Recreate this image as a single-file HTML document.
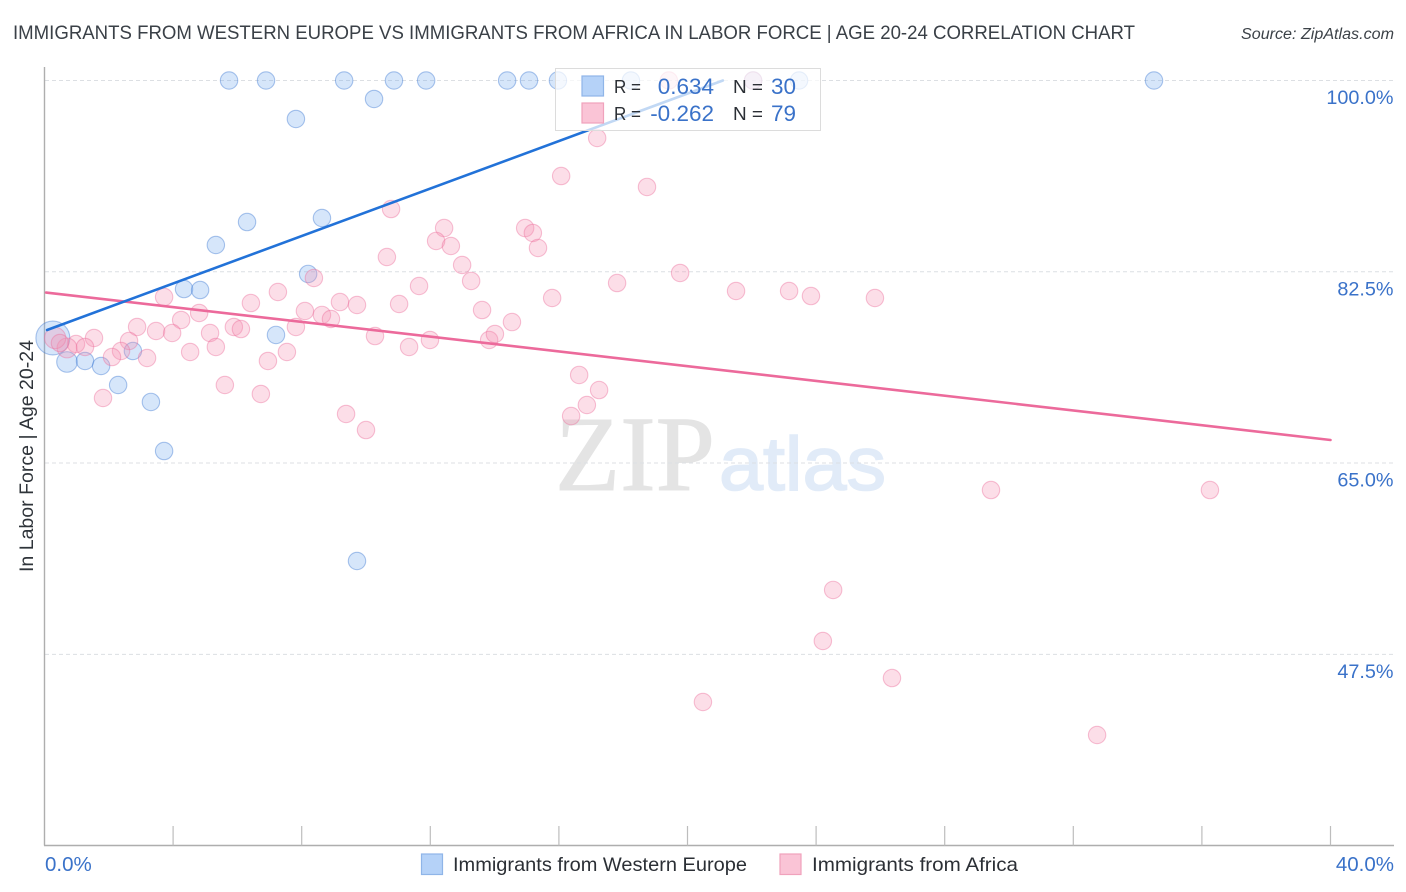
<!DOCTYPE html>
<html lang="en">
<head>
<meta charset="utf-8">
<title>Immigrants from Western Europe vs Immigrants from Africa correlation chart</title>
<style>
html,body{margin:0;padding:0;background:#fff;width:1406px;height:892px;overflow:hidden}
svg{display:block}
text{font-family:"Liberation Sans",sans-serif}
</style>
</head>
<body>
<svg id="chart" xmlns="http://www.w3.org/2000/svg" width="1406" height="892" viewBox="0 0 1406 892">
  <rect x="0" y="0" width="1406" height="892" fill="#fff"/>
  <text x="13" y="39" font-size="19.5" fill="#3a4047" textLength="1122" lengthAdjust="spacingAndGlyphs">IMMIGRANTS FROM WESTERN EUROPE VS IMMIGRANTS FROM AFRICA IN LABOR FORCE | AGE 20-24 CORRELATION CHART</text>
  <text x="1241" y="39" font-size="15.5" font-style="italic" fill="#3c4248" textLength="153" lengthAdjust="spacingAndGlyphs">Source: ZipAtlas.com</text>
  <g id="watermark">
    <text x="555" y="490" style="font-family:'Liberation Serif',serif" font-size="107" fill="#e4e4e4" stroke="#e4e4e4" stroke-width="1" textLength="160" lengthAdjust="spacingAndGlyphs">ZIP</text>
    <text x="719" y="490" font-size="76" fill="#e1ebf8" stroke="#e1ebf8" stroke-width="1.6" textLength="167" lengthAdjust="spacingAndGlyphs">atlas</text>
  </g>
  <g id="grid"></g>
  <g id="axes"></g>
  <g id="blue-points"></g>
  <g id="pink-points"></g>
  <g id="trends"></g>
  <text transform="translate(33,456) rotate(-90)" text-anchor="middle" font-size="19" fill="#2f343a" textLength="232" lengthAdjust="spacingAndGlyphs">In Labor Force | Age 20-24</text>
  <g>
    <rect x="555.5" y="68.5" width="265" height="62" fill="#fff" fill-opacity="0.72" stroke="#dcdcdc" stroke-width="1"/>
    <rect x="582" y="76" width="21.500" height="20" fill="#b5d2f8" stroke="#8fb5e8" stroke-width="1.2"/>
    <rect x="582" y="103" width="21.500" height="20" fill="#fac4d6" stroke="#f0a2bc" stroke-width="1.2"/>
    <text x="614" y="93" font-size="18.500" fill="#2b2f35" textLength="27" lengthAdjust="spacingAndGlyphs">R =</text>
    <text x="714" y="94" text-anchor="end" font-size="22.500" fill="#3a72c9">0.634</text>
    <text x="733" y="93" font-size="18.500" fill="#2b2f35" textLength="30" lengthAdjust="spacingAndGlyphs">N =</text>
    <text x="796" y="94" text-anchor="end" font-size="22.500" fill="#3a72c9">30</text>
    <text x="614" y="120" font-size="18.500" fill="#2b2f35" textLength="27" lengthAdjust="spacingAndGlyphs">R =</text>
    <text x="714" y="121" text-anchor="end" font-size="22.500" fill="#3a72c9">-0.262</text>
    <text x="733" y="120" font-size="18.500" fill="#2b2f35" textLength="30" lengthAdjust="spacingAndGlyphs">N =</text>
    <text x="796" y="121" text-anchor="end" font-size="22.500" fill="#3a72c9">79</text>
  </g>
  <g>
    <rect x="421.500" y="854" width="21" height="20.500" fill="#b5d2f8" stroke="#8fb5e8" stroke-width="1.2"/>
    <text x="453" y="871" font-size="19.500" fill="#2b2f35" textLength="294" lengthAdjust="spacingAndGlyphs">Immigrants from Western Europe</text>
    <rect x="780" y="854" width="21" height="20.500" fill="#fac4d6" stroke="#f0a2bc" stroke-width="1.2"/>
    <text x="812" y="871" font-size="19.500" fill="#2b2f35" textLength="206" lengthAdjust="spacingAndGlyphs">Immigrants from Africa</text>
  </g>
</svg>
<script>
var yTicks = [100, 82.5, 65, 47.5];
var yTickLabels = ["100.0%", "82.5%", "65.0%", "47.5%"];
var xTicks = [0, 4, 8, 12, 16, 20, 24, 28, 32, 36, 40];
var xEndLabels = ["0.0%", "40.0%"];

var blueX = [5.74,6.89,9.32,10.87,11.87,14.39,15.07,15.97,18.24,22.04,23.47,34.51,10.25,7.82,8.63,6.30,5.33,8.20,4.34,4.84,7.20,2.75,0.26,0.70,1.26,1.76,2.29,3.31,3.72,9.72];
var blueY = [100,100,100,100,100,100,100,100,100,100,100,100,98.31,96.48,87.42,87.05,84.95,82.30,80.92,80.83,76.72,75.25,76.44,74.25,74.34,73.88,72.14,70.59,66.10,56.04];
var blueWeight = [1,1,1,1,1,1,1,1,1,1,1,1,1,1,1,1,1,1,1,1,1,1,3.8,1.4,1,1,1,1,1,1];

var pinkX = [17.19,16.07,18.74,10.78,12.43,12.18,12.64,14.95,15.19,15.35,10.65,12.99,13.27,8.38,19.77,17.81,11.65,7.26,21.51,23.16,23.84,25.83,15.79,3.72,6.42,9.19,9.72,11.03,13.61,14.54,8.10,8.63,8.91,4.81,4.25,2.88,5.89,6.11,7.82,3.47,3.97,5.15,10.28,11.99,13.83,14.01,1.54,2.63,5.33,11.34,7.54,4.53,2.38,2.10,3.19,6.95,0.98,1.26,0.70,0.33,16.63,17.25,5.61,6.73,1.82,9.38,10.00,16.38,16.87,29.44,36.25,24.53,24.21,26.36,20.48,32.74,19.42,22.04,0.48];
var pinkY = [94.74,91.26,90.26,88.24,86.50,85.32,84.86,86.50,86.05,84.68,83.85,83.12,81.66,81.93,82.39,81.47,81.20,80.65,80.74,80.74,80.28,80.10,80.10,80.19,79.64,79.73,79.46,79.55,79.00,77.90,78.91,78.55,78.18,78.73,78.09,77.45,77.45,77.26,77.45,77.08,76.90,76.90,76.62,76.26,76.26,76.81,76.44,76.17,75.62,75.62,75.16,75.16,75.25,74.70,74.61,74.34,75.89,75.62,75.53,76.44,73.06,71.68,72.14,71.32,70.95,69.49,68.02,69.30,70.31,62.53,62.53,53.39,48.72,45.33,43.14,40.12,100,100,75.98];
var pinkWeight = [1,1,1,1,1,1,1,1,1,1,1,1,1,1,1,1,1,1,1,1,1,1,1,1,1,1,1,1,1,1,1,1,1,1,1,1,1,1,1,1,1,1,1,1,1,1,1,1,1,1,1,1,1,1,1,1,1,1,1.3,1.5,1,1,1,1,1,1,1,1,1,1,1,1,1,1,1,1,1,1,1];

var blueTrendX = [0.08, 21.10];
var blueTrendY = [77.17, 100];
var pinkTrendX = [0.05, 40];
var pinkTrendY = [80.60, 67.11];

var SVG_NS = "http://www.w3.org/2000/svg";
function xScale(v){ return 44.5 + v * 32.15; }
function yScale(v){ return 80.5 + (100 - v) * 10.93; }
function make(tag, parentId, attrs){
  var el = document.createElementNS(SVG_NS, tag);
  for (var k in attrs) el.setAttribute(k, attrs[k]);
  document.getElementById(parentId).appendChild(el);
  return el;
}

yTicks.forEach(function(t, i){
  var line = make("line", "grid", {x1:45, x2:1394, y1:yScale(t), y2:yScale(t), stroke:"#dcdfe3", "stroke-width":1, "stroke-dasharray":"4 3"});
  
  
  var label = make("text", "axes", {x:1393.5, y:yScale(t) + 23.5, "text-anchor":"end", "font-size":19.8, fill:"#3a72c9"});
  label.textContent = yTickLabels[i];
  
  
});

var yAxis = make("line", "axes", {x1:44.5, x2:44.5, y1:67, y2:845.5, stroke:"#aeaeae", "stroke-width":1.4});


var xAxis = make("line", "axes", {x1:44, x2:1394, y1:845.5, y2:845.5, stroke:"#aeaeae", "stroke-width":1.4});



xTicks.forEach(function(t){
  if (t === 0) return;
  var tick = make("line", "axes", {x1:xScale(t), x2:xScale(t), y1:826, y2:845.5, stroke:"#bdbdbd", "stroke-width":1.2});
  
  
});

var xLabelLeft = make("text", "axes", {x:xScale(xTicks[0]) + 0.5, y:871, "font-size":20.5, fill:"#3a72c9"});
xLabelLeft.textContent = xEndLabels[0];


var xLabelRight = make("text", "axes", {x:1394, y:871, "text-anchor":"end", "font-size":20.5, fill:"#3a72c9"});
xLabelRight.textContent = xEndLabels[1];



blueX.forEach(function(v, i){
  var c = make("circle", "blue-points", {cx:xScale(v), cy:yScale(blueY[i]), r:8.7 * Math.sqrt(blueWeight[i]), fill:"rgba(120,172,238,0.3)", stroke:"rgba(60,120,210,0.42)", "stroke-width":1.1});
  
  
});

pinkX.forEach(function(v, i){
  var c = make("circle", "pink-points", {cx:xScale(v), cy:yScale(pinkY[i]), r:8.7 * Math.sqrt(pinkWeight[i]), fill:"rgba(245,145,180,0.3)", stroke:"rgba(235,110,155,0.42)", "stroke-width":1.1});
  
  
});

var pinkLine = make("line", "trends", {x1:xScale(pinkTrendX[0]), y1:yScale(pinkTrendY[0]), x2:xScale(pinkTrendX[1]), y2:yScale(pinkTrendY[1]), stroke:"#ec6a9b", "stroke-width":2.6, "stroke-linecap":"round"});


var blueLine = make("line", "trends", {x1:xScale(blueTrendX[0]), y1:yScale(blueTrendY[0]), x2:xScale(blueTrendX[1]), y2:yScale(blueTrendY[1]), stroke:"#2272d8", "stroke-width":2.6, "stroke-linecap":"round"});


</script>
</body>
</html>
